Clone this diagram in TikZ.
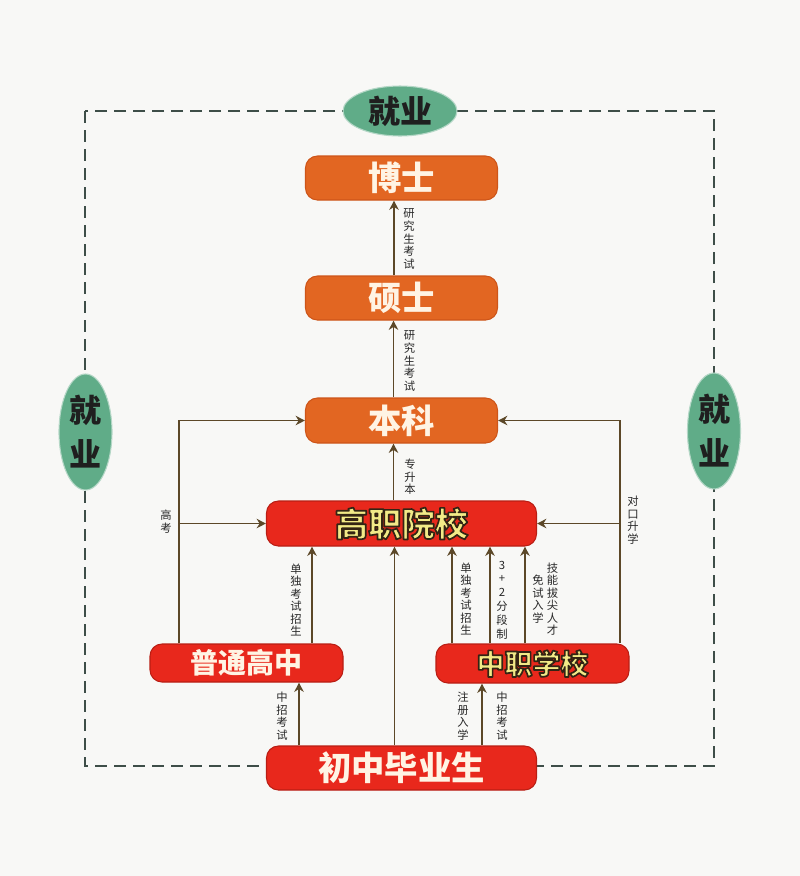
\documentclass[tikz,border=0pt]{standalone}
\usepackage{fontspec}
\newfontfamily\cjk{Noto Sans CJK SC}
\usetikzlibrary{arrows.meta,calc,shapes.geometric}
\definecolor{bg}{RGB}{248,248,246}
\definecolor{orbox}{RGB}{226,102,34}
\definecolor{ordraw}{RGB}{205,85,25}
\definecolor{rdbox}{RGB}{232,40,28}
\definecolor{rddraw}{RGB}{185,30,20}
\definecolor{cream}{RGB}{255,244,228}
\definecolor{ylw}{RGB}{242,234,135}
\definecolor{grn}{RGB}{96,172,136}
\definecolor{grnd}{RGB}{180,215,198}
\definecolor{dashc}{RGB}{62,78,72}
\definecolor{arrc}{RGB}{92,72,40}
\definecolor{lbl}{RGB}{40,40,40}
\newcommand\outlinetxt[1]{\special{pdf:literal direct 2 Tr 1.25 w 1 j 0.2 0.14 0.08 RG}#1\special{pdf:literal direct 0 Tr}}
\tikzset{
  orbx/.style={rectangle, rounded corners=9pt, fill=orbox, draw=ordraw, line width=0.8pt,
    minimum width=144pt, minimum height=33pt, text=cream, inner sep=0pt,
    font=\cjk\bfseries\fontsize{25}{25}\selectfont},
  rdbx/.style={rectangle, rounded corners=9pt, fill=rdbox, draw=rddraw, line width=0.8pt,
    inner sep=0pt, font=\cjk\bfseries\fontsize{25}{25}\selectfont},
  ell/.style={ellipse, fill=grn, draw=grnd, line width=0.8pt, inner sep=0pt},
  elltxt/.style={font=\cjk\bfseries\fontsize{24}{25}\selectfont, text=black!88, align=center, inner sep=0pt},
  lab/.style={font=\cjk\fontsize{8.5}{9.4}\selectfont, text=lbl, align=center, inner sep=0pt},
  arr/.style={draw=arrc, line width=1.4pt, -{Stealth[length=7pt,width=7pt]}},
  dashln/.style={draw=dashc, line width=2pt, dash pattern=on 9pt off 5.25pt},
}
\begin{document}
\begin{tikzpicture}[x=0.75pt,y=-0.75pt]
\fill[bg] (0,0) rectangle (800,876);
\useasboundingbox (0,0) rectangle (800,876);

% dashed employment frame
\draw[dashln] (85,111) rectangle (714,766);

% boxes
\node[orbx] (bs) at (401.5,178) {博士};
\node[orbx] (ss) at (401.5,298) {硕士};
\node[orbx, minimum height=33.75pt] (bk) at (401.5,420.5) {本科};
\node[rdbx, minimum width=202.5pt, minimum height=33.75pt, text=ylw] (gz) at (401.5,523.5) {\outlinetxt{高职院校}};
\node[rdbx, minimum width=144.75pt, minimum height=28.5pt, text=cream, font=\cjk\bfseries\fontsize{21}{21}\selectfont] (pt) at (246.5,663) {普通高中};
\node[rdbx, minimum width=144.75pt, minimum height=29.25pt, text=ylw, font=\cjk\bfseries\fontsize{21}{21}\selectfont] (zz) at (532.5,663.5) {\outlinetxt{中职学校}};
\node[rdbx, minimum width=202.5pt, minimum height=33pt, text=cream] (cz) at (401.5,768) {初中毕业生};

% employment ellipses
\node[ell, minimum width=85.5pt, minimum height=37.5pt] (jyt) at (400,111) {};
\node[elltxt] (jytt) at (jyt) {就业};
\node[ell, minimum width=39.75pt, minimum height=87pt] (jyl) at (85.5,432) {};
\node[elltxt, font=\cjk\bfseries\fontsize{24}{33}\selectfont] (jylt) at (jyl) {就\\业};
\node[ell, minimum width=39.75pt, minimum height=87pt] (jyr) at (714,431) {};
\node[elltxt, font=\cjk\bfseries\fontsize{24}{33}\selectfont] (jyrt) at (jyr) {就\\业};

% column arrows
\draw[arr] ($(ss.north)+(-7.5,0)$) -- ($(bs.south)+(-7.5,0)$);
\draw[arr] ($(bk.north)+(-8,0)$) -- ($(ss.south)+(-8,0)$);
\draw[arr] ($(gz.north)+(-8,0)$) -- ($(bk.south)+(-8,0)$);
\draw[arr] ($(cz.north)+(-7,0)$) -- ($(gz.south)+(-7,0)$);

% left branch (普通高中)
\coordinate (lx) at ($(pt.north)+(-67.5,0)$);
\draw[arr] (lx) |- (bk.west);
\draw[arr] (lx |- gz.west) -- (gz.west);
\coordinate (p2) at ($(pt.north)+(65.5,0)$);
\draw[arr] (p2) -- (p2 |- gz.south);
\coordinate (c1) at ($(pt.south)+(52.5,0)$);
\draw[arr] (c1 |- cz.north) -- (c1);

% right branch (中职学校)
\coordinate (rx) at ($(zz.north)+(87.5,0)$);
\draw[arr] (rx) |- (bk.east);
\draw[arr] (rx |- gz.east) -- (gz.east);
\coordinate (z1) at ($(zz.north)+(-80.5,0)$);
\coordinate (z2) at ($(zz.north)+(-42.5,0)$);
\coordinate (z3) at ($(zz.north)+(-7.5,0)$);
\draw[arr] (z1) -- (z1 |- gz.south);
\draw[arr] (z2) -- (z2 |- gz.south);
\draw[arr] (z3) -- (z3 |- gz.south);
\coordinate (c2) at ($(zz.south)+(-50.5,0)$);
\draw[arr] (c2 |- cz.north) -- (c2);

% labels
\node[lab] (l1) at (409,239) {研\\究\\生\\考\\试};
\node[lab] (l2) at (409.5,361) {研\\究\\生\\考\\试};
\node[lab] (l3) at (410,477) {专\\升\\本};
\node[lab] (l4) at (166,521.5) {高\\考};
\node[lab] (l5) at (296,600) {单\\独\\考\\试\\招\\生};
\node[lab] (l6) at (282,716) {中\\招\\考\\试};
\node[lab] (l7) at (463,716) {注\\册\\入\\学};
\node[lab] (l8) at (502,716) {中\\招\\考\\试};
\node[lab] (l9) at (466,599) {单\\独\\考\\试\\招\\生};
\node[lab, font=\cjk\fontsize{8.5}{10.4}\selectfont] (l10) at (502,600) {3\\+\\2\\分\\段\\制};
\node[lab] (l11) at (552.5,599) {技\\能\\拔\\尖\\人\\才};
\node[lab] (l12) at (538,599) {免\\试\\入\\学};
\node[lab] (l13) at (633,520) {对\\口\\升\\学};
\end{tikzpicture}
\end{document}
